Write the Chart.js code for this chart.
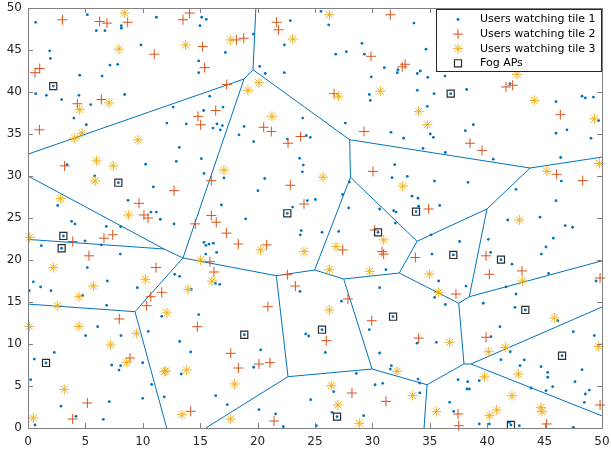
<!DOCTYPE html>
<html>
<head>
<meta charset="utf-8">
<script src="https://cdn.jsdelivr.net/npm/chart.js@4.4.0/dist/chart.umd.min.js"></script>
<style>
  body { margin: 0; background: #fff; }
  canvas { display: block; }
</style>
</head>
<body>
<canvas id="myChart" width="611" height="450"></canvas>
<script>
// users watching tile 1 (blue dots)
const tile1Users = [
  [0.67,48.3],[5.17,49.2],[5.95,47.3],[6.7,47.3],[8.13,47.9],[8.13,47.6],[11.18,48.9],[1.89,44.9],[1.95,44.0],[9.84,45.6],
  [7.14,43.2],[7.81,43.3],[4.5,42.0],[6.45,41.9],[2.2,40.7],[0.67,39.8],[1.6,39.6],[2.93,39.1],[4.44,39.6],[5.46,38.5],
  [8.42,39.7],[4.0,36.9],[5.08,36.1],[12.1,36.3],[12.65,38.2],
  [15.13,48.9],[15.53,48.65],[14.98,47.9],[19.63,46.9],[17.19,44.7],[14.87,43.7],[14.87,42.3],[20.18,43.05],[20.67,42.2],[22.33,42.3],
  [22.85,48.5],[22.33,45.6],[15.83,39.5],[15.3,37.8],[16.99,38.2],[13.79,36.2],[16.46,36.2],[16.93,36.0],[16.11,35.7],[16.75,35.5],
  [18.82,35.9],[18.38,34.9],[19.66,34.1],[13.18,33.4],[23.93,36.9],[24.24,34.8],[24.59,34.6],[22.59,34.4],
  [25.52,49.6],[26.19,48.0],[33.62,48.2],[29.09,45.8],[26.8,44.5],[27.73,44.8],[29.3,44.5],[34.67,45.1],[31.04,42.9],[32.23,42.65],
  [32.17,42.3],[34.17,42.5],[33.91,42.2],[34.82,41.75],[36.32,41.9],[29.9,41.8],[29.73,39.7],[29.82,39.0],[33.91,40.2],[35.37,39.8],
  [36.82,39.8],[34.78,38.3],[27.64,36.3],[31.62,35.2],[32.72,34.5],[35.04,35.0],[35.31,34.6],[34.41,33.3],
  [38.21,40.3],[41.99,41.0],[45.99,38.85],[48.26,39.5],[48.55,39.3],[49.25,39.4],[49.71,36.6],[38.09,35.4],[38.79,36.1],[45.99,35.1],
  [46.95,35.5],[49.04,34.5],
  [3.4,31.35],[10.25,31.4],[5.81,30.0],[7.87,29.2],[10.92,28.7],[2.59,26.5],[8.71,27.1],[10.71,25.7],[11.18,25.7],[11.53,24.85],
  [3.8,24.6],[4.09,24.3],[6.82,24.0],[8.07,23.96],[3.08,22.86],[2.93,21.4],[1.16,21.7],[4.97,22.26],[6.39,21.8],[8.04,20.7],
  [12.72,24.3],[5.17,19.1],[0.46,17.4],[1.1,16.8],[6.91,17.5],[9.52,16.7],
  [12.92,31.75],[15.1,32.06],[15.33,30.3],[17.07,29.76],[20.62,29.7],[20.03,28.25],[23.66,32.1],[23.98,31.3],[23.9,30.5],[16.84,26.55],
  [18.96,24.9],[23.05,26.3],[22.59,25.56],[24.33,27.07],[25.03,27.2],[23.8,23.5],[23.72,23.0],[15.33,22.1],[15.5,21.75],[15.77,21.9],
  [16.14,22.0],[15.48,20.7],[16.43,20.9],[12.78,18.3],[13.21,18.06],[16.32,17.2],[16.7,17.1],[14.23,16.5],
  [36.35,32.8],[31.94,31.35],[31.71,29.8],[33.04,29.96],[35.4,29.4],[33.45,27.6],[33.97,27.35],[34.03,26.4],[35.86,26.5],[33.8,25.75],
  [27.41,27.8],[27.99,29.3],[27.93,26.2],[30.63,26.07],[31.85,25.87],[32.06,25.7],[32.0,24.4],[25.61,23.3],[27.06,23.4],[30.49,23.3],
  [35.1,23.0],[37.6,22.2],[35.19,20.7],[37.05,20.6],[31.18,18.85],[35.77,17.5],[30.63,16.7],
  [40.53,32.0],[46.4,32.2],[38.33,29.25],[46.46,29.4],[42.51,28.4],[45.99,27.06],[41.79,24.76],[44.6,25.1],[46.8,24.1],[47.44,23.9],
  [40.1,22.46],[45.76,22.6],[45.12,21.55],[44.72,20.7],[40.3,20.9],[41.2,20.04],[42.16,19.5],[45.35,18.4],[38.15,16.9],[41.64,16.8],
  [49.48,17.5],
  [0.11,16.35],[2.0,16.35],[4.76,15.75],[6.85,14.6],[6.07,12.06],[5.02,11.0],[8.1,11.0],[10.48,11.5],[11.65,13.3],[2.29,9.0],
  [0.55,8.2],[1.57,7.74],[0.23,5.75],[7.29,7.5],[8.07,7.42],[7.93,6.9],[9.99,7.77],[10.77,5.2],[9.99,3.53],[11.87,3.7],
  [2.87,2.6],[7.08,3.13],[4.18,1.39],[6.56,1.03],[0.61,0.36],
  [14.87,13.5],[13.21,10.3],[14.17,9.05],[13.35,6.43],[18.84,11.1],[20.27,9.29],[19.66,7.23],[16.35,3.85],[17.36,2.78],[20.12,2.18],
  [21.57,1.67],[22.24,0.16],[23.69,16.27],[24.19,11.2],[24.45,10.95],[24.62,3.37],[25.12,0.27],
  [27.3,15.1],[35.42,15.56],[36.35,14.7],[31.8,13.25],[25.61,11.7],[29.73,11.7],[33.89,10.1],[35.57,10.2],[25.9,9.0],[30.63,8.93],
  [31.65,7.42],[31.56,7.02],[28.6,6.5],[33.97,5.83],[30.23,5.15],[30.9,5.32],[34.12,5.36],[26.63,4.33],[26.48,1.87],[26.92,1.35],
  [29.24,1.47],[34.12,4.17],[36.73,3.06],[37.08,1.99],[37.46,5.75],
  [42.51,15.95],[39.66,14.85],[42.42,14.37],[43.32,14.05],[46.14,12.77],[41.11,12.06],[40.33,10.87],[47.5,11.47],[49.33,11.0],[46.52,8.6],
  [42.01,9.08],[41.2,8.13],[43.23,8.1],[42.86,7.42],[44.69,7.3],[45.27,6.63],[48.26,6.94],[45.27,6.04],[38.3,5.51],[39.31,5.63],
  [38.24,4.64],[38.45,4.64],[45.7,4.92],[47.65,5.51],[45.12,4.44],[48.9,4.52],[48.55,4.05],[48.46,3.06],[43.82,4.76],[39.31,0.48],
  [40.19,0.48],[41.93,0.68],[42.07,0.36],[42.8,0.27],[47.5,0.08]
];

// users watching tile 2 (red pluses)
const tile2Users = [
  [3.0,48.6],[6.24,48.4],[6.88,48.2],[8.68,48.3],[11.0,44.5],[1.02,42.8],[0.61,42.3],[6.39,39.1],[4.3,38.6],[0.99,35.5],
  [14.08,49.4],[13.5,48.6],[21.66,48.3],[21.83,47.4],[18.15,46.2],[18.79,46.4],[15.21,45.4],[15.39,42.9],[17.31,40.9],[16.35,37.8],
  [14.81,37.1],[15.04,36.1],[20.53,35.8],[21.2,35.3],[23.75,34.7],[22.65,33.9],
  [31.56,49.2],[29.88,44.25],[32.6,43.0],[32.85,43.3],[26.66,39.8],[29.27,35.3],
  [41.64,40.6],[42.22,40.8],[46.37,37.3],[38.5,33.9],[39.55,33.05],
  [3.19,31.2],[9.67,26.75],[10.1,25.36],[10.45,25.0],[3.89,22.2],[6.62,22.6],[7.38,23.0],[5.31,20.5],[11.15,19.1],
  [15.97,29.44],[12.72,28.25],[22.85,28.9],[24.04,26.67],[15.97,25.3],[16.4,24.5],[14.57,24.3],[17.28,23.2],[18.32,21.9],[20.79,21.8],
  [15.85,19.8],[16.2,18.57],[22.59,18.25],[23.29,16.9],
  [30.05,30.55],[34.9,26.07],[30.2,23.57],[27.41,21.2],[30.84,21.0],[30.98,20.7],[33.74,20.3],
  [46.05,30.2],[48.32,29.45],[39.9,20.5],[40.19,18.3],[43.03,18.7],[49.83,17.86],
  [7.95,12.98],[10.34,14.56],[10.69,15.63],[11.65,16.15],[8.89,8.33],[5.17,2.98],[3.89,1.07],
  [20.9,14.44],[14.75,12.06],[17.66,8.89],[18.32,7.14],[20.12,7.62],[21.08,7.78],[14.17,1.99],[21.43,0.83],
  [27.87,15.36],[37.28,15.95],[29.94,12.77],[34.03,10.7],[25.98,10.4],[28.22,4.17],[31.18,3.17],[37.46,1.67],[37.52,0.27],
  [39.9,10.8],[45.18,0.48],[49.83,2.74]
];

// users watching tile 3 (yellow asterisks)
const tile3Users = [
  [8.42,49.4],[7.93,45.1],[7.06,38.7],[4.5,37.9],[4.7,35.1],[4.07,34.5],[9.58,34.3],
  [17.66,46.2],[13.73,45.6],[23.06,46.3],[20.12,41.1],[19.16,40.2],[21.25,37.1],
  [26.25,49.2],[27.03,39.5],[30.69,40.1],[34.03,37.7],[34.78,36.1],
  [42.6,42.1],[44.1,39.0],[49.33,36.8],
  [5.98,31.8],[7.43,31.2],[5.84,29.4],[2.85,27.3],[8.74,25.36],[0.15,22.7],[2.2,19.1],[10.22,17.7],[5.69,16.9],
  [17.07,30.7],[20.27,21.2],[24.04,21.0],[15.04,20.0],[16.03,17.5],[13.94,16.5],
  [25.7,29.85],[32.64,28.8],[30.98,22.4],[26.83,21.6],[26.25,18.85],[29.76,18.65],[34.96,18.33],
  [45.2,30.56],[49.77,31.5],[42.8,24.76],[43.09,17.5],
  [4.44,15.63],[2.55,14.56],[0.12,12.1],[4.44,12.1],[9.47,11.27],[7.2,9.88],[8.6,7.82],[11.87,6.7],[12.0,6.8],
  [3.16,4.6],[0.46,1.19],[12.1,13.7],
  [13.82,6.9],[18.0,5.24],[13.41,1.59],[17.66,1.07],
  [35.77,16.15],[26.25,14.05],[36.73,10.2],[32.14,6.75],[26.42,5.04],[33.51,3.85],[27.0,2.74],[35.57,1.94],[28.86,0.56],
  [45.85,13.1],[49.71,9.72],[41.58,9.6],[40.13,9.08],[42.71,6.43],[39.75,6.1],[42.16,3.85],[40.83,2.14],[40.19,1.47],[44.69,2.46],
  [44.77,1.94]
];

// fog access points (squares)
const fogAPs = [
  [2.2,40.7],[36.82,39.8],[7.87,29.2],[3.08,22.86],[2.93,21.4],[22.59,25.56],[33.8,25.75],[30.49,23.3],[37.05,20.6],
  [41.2,20.04],[43.32,14.05],[18.84,11.1],[25.61,11.7],[31.8,13.25],[1.57,7.74],[46.52,8.6],[26.92,1.35],[42.07,0.36]
];

// voronoi cell vertices and the edges between them
const voronoiVertices = [
  [19.60,42.65],[18.82,41.55],[28.02,34.32],[43.73,30.95],[39.98,26.07],[33.89,22.23],[37.52,14.85],[37.98,7.62],
  [38.59,7.62],[34.76,5.15],[38.44,15.63],[32.34,18.45],[27.50,17.74],[29.97,7.02],[22.65,6.11],[21.63,18.13],
  [24.97,18.81],[28.09,29.85],[13.50,20.24],[11.85,21.31],[9.32,13.85],
  [19.85,50],[0,32.6],[0,30.0],[0,22.45],[0,14.75],[12.08,0],[15.48,0],[34.5,0],[50,32.25],[50,19.9],[50,14.4],[50,1.45]
];
const voronoiEdges = [
  [0,21],[0,1],[0,2],[1,22],[1,18],[2,17],[2,3],[3,29],[3,4],[4,5],[4,10],[10,30],[10,6],[6,11],[6,7],[7,9],[7,8],
  [8,31],[8,32],[9,28],[9,13],[13,12],[13,14],[14,27],[14,15],[15,16],[15,18],[16,12],[16,17],[17,5],[5,11],[11,12],
  [18,19],[18,20],[19,23],[19,24],[20,25],[20,26]
];

const axisMin = 0, axisMax = 50, tickStep = 5;

const blue = '#0072BD', orange = '#D95319', yellow = '#EDB120';

function toPoints(arr) {
  return arr.map(p => ({x: p[0], y: p[1]}));
}

// line segments, split with NaN so they are not joined
let edgePoints = [];
voronoiEdges.forEach(e => {
  const a = voronoiVertices[e[0]];
  const b = voronoiVertices[e[1]];
  edgePoints.push({x: a[0], y: a[1]}, {x: b[0], y: b[1]}, {x: b[0], y: NaN});
});

// box round the plot with inward ticks on all sides
const axesBox = {
  id: 'axesBox',
  afterDraw(chart) {
    const {ctx, chartArea: a, scales: {x, y}} = chart;
    ctx.save();
    ctx.strokeStyle = '#808080';
    ctx.lineWidth = 1;
    ctx.strokeRect(a.left + 0.5, a.top + 0.5, a.right - a.left, a.bottom - a.top);
    ctx.beginPath();
    for (let v = axisMin; v <= axisMax; v += tickStep) {
      const px = Math.round(x.getPixelForValue(v)) + 0.5;
      ctx.moveTo(px, a.bottom); ctx.lineTo(px, a.bottom - 5);
      ctx.moveTo(px, a.top); ctx.lineTo(px, a.top + 5);
      const py = Math.round(y.getPixelForValue(v)) + 0.5;
      ctx.moveTo(a.left, py); ctx.lineTo(a.left + 5, py);
      ctx.moveTo(a.right, py); ctx.lineTo(a.right - 5, py);
    }
    ctx.stroke();
    ctx.restore();
  }
};

// legend box inside the top right corner
const legendBox = {
  id: 'legendBox',
  afterDraw(chart) {
    const {ctx, chartArea: a} = chart;
    const w = 165, h = 62;
    const left = a.right - w - 1, top = a.top + 1;
    ctx.save();
    ctx.fillStyle = '#fff';
    ctx.fillRect(left, top, w, h);
    ctx.strokeStyle = '#262626';
    ctx.lineWidth = 1;
    ctx.strokeRect(left + 0.5, top + 0.5, w, h);
    ctx.font = '11px "DejaVu Sans"';
    ctx.textBaseline = 'middle';
    chart.data.datasets.forEach((ds, i) => {
      if (ds.inLegend === false) return;
      const yy = top + 10.5 + i * 14.6;
      ctx.fillStyle = ds.pointBackgroundColor;
      ctx.strokeStyle = ds.pointBorderColor;
      ctx.lineWidth = ds.pointBorderWidth;
      Chart.helpers.drawPoint(ctx, {
        pointStyle: ds.pointStyle, radius: ds.pointRadius, rotation: 0, borderWidth: ds.pointBorderWidth
      }, left + 22, yy);
      ctx.fillStyle = '#000';
      ctx.fillText(ds.label, left + 44, yy);
    });
    ctx.restore();
  }
};

const tickFont = {family: 'DejaVu Sans', size: 12};

// keep the plot area fixed: no extra room for edge labels
function fixX(scale) {
  scale.height = 22;
  scale.paddingLeft = 0; scale.paddingRight = 0;
}
function fixY(scale) {
  scale.width = 28;
  scale.paddingTop = 0; scale.paddingBottom = 0;
}

var ctx = document.getElementById('myChart').getContext('2d');
var chart = new Chart(ctx, {
  type: 'scatter',
  data: {
    datasets: [
      {
        label: 'Users watching tile 1', data: toPoints(tile1Users), order: 4, clip: false,
        pointStyle: 'circle', pointRadius: 1.4, pointBackgroundColor: blue, pointBorderColor: blue, pointBorderWidth: 0
      },
      {
        label: 'Users watching tile 2', data: toPoints(tile2Users), order: 3, clip: false,
        pointStyle: 'cross', pointRadius: 5, pointBackgroundColor: orange, pointBorderColor: orange, pointBorderWidth: 1
      },
      {
        label: 'Users watching tile 3', data: toPoints(tile3Users), order: 2, clip: false,
        pointStyle: 'star', pointRadius: 5, pointBackgroundColor: yellow, pointBorderColor: yellow, pointBorderWidth: 1
      },
      {
        label: 'Fog APs', data: toPoints(fogAPs), order: 1, clip: false,
        pointStyle: 'rect', pointRadius: 5, pointBackgroundColor: 'rgba(0,0,0,0)', pointBorderColor: '#2b2b2b', pointBorderWidth: 1.2
      },
      {
        label: 'Voronoi', inLegend: false, data: edgePoints, order: 5,
        showLine: true, spanGaps: false, pointRadius: 0, borderColor: blue, borderWidth: 1
      }
    ]
  },
  options: {
    responsive: false,
    animation: false,
    events: [],
    layout: {padding: {top: 8, right: 9, left: 0, bottom: 0}},
    plugins: {legend: {display: false}, tooltip: {enabled: false}},
    scales: {
      x: {
        type: 'linear', min: axisMin, max: axisMax,
        grid: {display: false, drawTicks: false},
        border: {display: false},
        ticks: {stepSize: tickStep, font: tickFont, color: '#262626', padding: 7, maxRotation: 0, autoSkip: false},
        afterFit: fixX
      },
      y: {
        type: 'linear', min: axisMin, max: axisMax,
        grid: {display: false, drawTicks: false},
        border: {display: false},
        ticks: {stepSize: tickStep, font: tickFont, color: '#262626', padding: 6, autoSkip: false},
        afterFit: fixY
      }
    }
  },
  plugins: [axesBox, legendBox]
});
</script>
</body>
</html>
